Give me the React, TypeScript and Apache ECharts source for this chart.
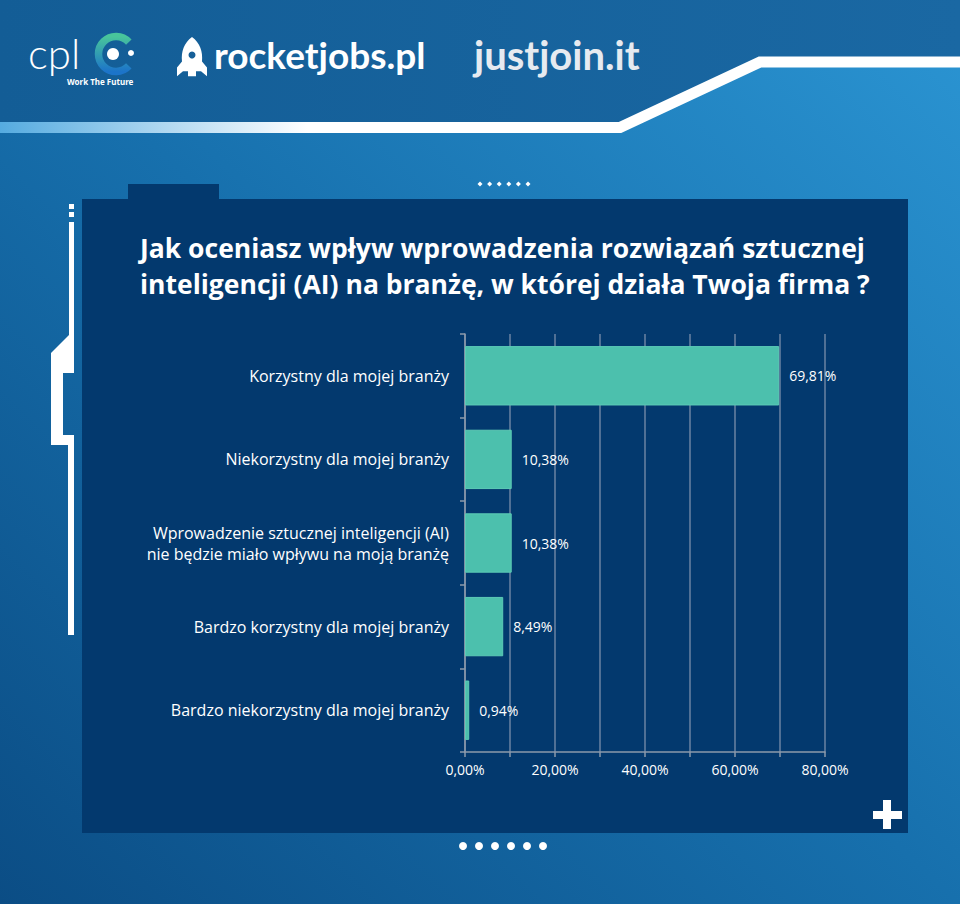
import React, { useEffect, useRef } from "react";
import * as echarts from "echarts";

const categories = [
  "Korzystny dla mojej branży",
  "Niekorzystny dla mojej branży",
  "Wprowadzenie sztucznej inteligencji (AI)\nnie będzie miało wpływu na moją branżę",
  "Bardzo korzystny dla mojej branży",
  "Bardzo niekorzystny dla mojej branży",
];
const values = [69.81, 10.38, 10.38, 8.49, 0.94];
const axisMin = 0;
const axisMax = 80;
const tickStep = 10;
const labelStep = 20;
const titleText =
  "Jak oceniasz wpływ wprowadzenia rozwiązań sztucznej\ninteligencji (AI) na branżę, w której działa Twoja firma ?";

const fmt = (v: number) => v.toFixed(2).replace(".", ",") + "%";

const FONT = "'Open Sans', 'Noto Sans', sans-serif";

let registered = false;
function registerShapes() {
  if (registered) return;
  registered = true;
  echarts.graphic.registerShape(
    "rocket",
    echarts.graphic.extendPath(
      "M16 0 C24 6 27 15 26 25 L31 31 L31 40 L25 35 L20 35 L20 40 L12 40 L12 35 L7 35 L1 40 L1 31 L6 25 C5 15 8 6 16 0 Z",
      {}
    )
  );
}

export default function App() {
  const ref = useRef<HTMLDivElement>(null);
  useEffect(() => {
    document.body.style.margin = "0";
    registerShapes();
    const chart = echarts.init(ref.current!, null, { renderer: "svg" });
    const Z = -10;
    const graphic: any[] = [
      {
        type: "rect",
        z: Z,
        shape: { x: 0, y: 0, width: 960, height: 904 },
        style: {
          fill: new echarts.graphic.LinearGradient(1, 0, 0, 1, [
            { offset: 0, color: "#2b95d3" },
            { offset: 0.5, color: "#1770ad" },
            { offset: 1, color: "#0b4d85" },
          ]),
        },
      },
      {
        type: "polygon",
        z: Z,
        shape: {
          points: [
            [0, 0],
            [960, 0],
            [960, 62],
            [760, 62],
            [620, 127],
            [0, 127],
          ],
        },
        style: {
          fill: new echarts.graphic.LinearGradient(0, 0, 1, 0, [
            { offset: 0, color: "#135d96" },
            { offset: 1, color: "#1a68a3" },
          ]),
        },
      },
      {
        type: "polyline",
        z: Z,
        shape: {
          points: [
            [0, 127.5],
            [620, 127.5],
            [760, 62],
            [960, 62],
          ],
        },
        style: {
          lineWidth: 11,
          lineJoin: "miter",
          stroke: new echarts.graphic.LinearGradient(0, 0, 1, 0, [
            { offset: 0, color: "#55abe0" },
            { offset: 0.32, color: "#ffffff" },
            { offset: 1, color: "#ffffff" },
          ]),
        },
      },
      // panel
      {
        type: "rect",
        z: Z,
        shape: { x: 128, y: 184, width: 91, height: 16 },
        style: { fill: "#03396e" },
      },
      {
        type: "rect",
        z: Z,
        shape: { x: 82, y: 199, width: 826, height: 634 },
        style: { fill: "#03396e" },
      },
      // left decoration
      { type: "rect", z: Z, shape: { x: 69, y: 204, width: 5, height: 5 }, style: { fill: "#fff" } },
      { type: "rect", z: Z, shape: { x: 69, y: 212, width: 5, height: 5 }, style: { fill: "#fff" } },
      { type: "rect", z: Z, shape: { x: 69, y: 222, width: 5, height: 113 }, style: { fill: "#fff" } },
      {
        type: "polygon",
        z: Z,
        shape: {
          points: [
            [69, 335],
            [74, 335],
            [74, 373],
            [63, 373],
            [63, 435],
            [74, 435],
            [74, 445],
            [51, 445],
            [51, 353],
          ],
        },
        style: { fill: "#fff" },
      },
      { type: "rect", z: Z, shape: { x: 68, y: 445, width: 6, height: 190 }, style: { fill: "#fff" } },
      // plus
      { type: "rect", z: Z, shape: { x: 873, y: 811, width: 29, height: 8 }, style: { fill: "#fff" } },
      { type: "rect", z: Z, shape: { x: 883, y: 800, width: 8, height: 29 }, style: { fill: "#fff" } },
      // logos
      {
        type: "text",
        z: Z,
        x: 28,
        y: 53,
        style: {
          text: "cpl",
          fill: "#fff",
          fontSize: 42,
          verticalAlign: "middle",
          fontFamily: "Lato, sans-serif",
          fontWeight: 300,
        },
      },
      {
        type: "arc",
        z: Z,
        shape: { cx: 116, cy: 54, r: 17.5, startAngle: 0.75, endAngle: Math.PI * 2 - 0.75, clockwise: true },
        style: {
          lineWidth: 7.5,
          fill: "none",
          stroke: new echarts.graphic.LinearGradient(0, 0, 0, 1, [
            { offset: 0, color: "#48c59b" },
            { offset: 1, color: "#1c74c9" },
          ]),
        },
      },
      { type: "circle", z: Z, shape: { cx: 113, cy: 54, r: 6 }, style: { fill: "#fff" } },
      { type: "circle", z: Z, shape: { cx: 131, cy: 53, r: 3 }, style: { fill: "#fff" } },
      {
        type: "text",
        z: Z,
        x: 67,
        y: 77,
        style: {
          text: "Work The Future",
          fill: "#fff",
          fontSize: 8,
          fontFamily: "'Liberation Sans Narrow', 'Noto Sans', sans-serif",
          fontWeight: "bold",
        },
      },
      {
        type: "rocket",
        z: Z,
        x: 176,
        y: 37,
        scaleX: 1.0,
        scaleY: 0.98,
        style: { fill: "#fff" },
      },
      { type: "circle", z: Z, shape: { cx: 192, cy: 55, r: 3.5 }, style: { fill: "#165f98" } },
      {
        type: "text",
        z: Z,
        x: 214,
        y: 36,
        style: { text: "rocketjobs.pl", fill: "#fff", fontSize: 37, fontFamily: "Lato, sans-serif", fontWeight: "bold" },
      },
      {
        type: "text",
        z: Z,
        x: 474,
        y: 35,
        style: { text: "justjoin.it", fill: "#e6eaf0", fontSize: 40, fontFamily: "Lato, sans-serif", fontWeight: "bold" },
      },
    ];
    // dots
    for (let i = 0; i < 6; i++) {
      graphic.push({
        type: "polygon",
        z: Z,
        shape: {
          points: [
            [480 + i * 9.6, 181.5],
            [482.5 + i * 9.6, 184],
            [480 + i * 9.6, 186.5],
            [477.5 + i * 9.6, 184],
          ],
        },
        style: { fill: "#fff" },
      });
      graphic.push({
        type: "circle",
        z: Z,
        shape: { cx: 463 + i * 16, cy: 846, r: 4 },
        style: { fill: "#fff" },
      });
    }

    chart.setOption({
      animation: false,
      title: {
        text: titleText,
        left: 135,
        top: 225,
        textStyle: {
          color: "#ffffff",
          fontSize: 26.5,
          fontWeight: "bold",
          fontFamily: FONT,
          lineHeight: 36,
        },
      },
      graphic,
      grid: { left: 465, right: 135, top: 334, bottom: 152, containLabel: false },
      xAxis: {
        type: "value",
        min: axisMin,
        max: axisMax,
        interval: tickStep,
        axisLine: { show: true, lineStyle: { color: "#8d9aab", width: 1.5 } },
        axisTick: { show: true, length: 5, lineStyle: { color: "#8d9aab", width: 1.5 } },
        splitLine: { show: true, lineStyle: { color: "#6b83a3", width: 1.5 } },
        axisLabel: {
          color: "#ffffff",
          fontSize: 14,
          fontFamily: FONT,
          margin: 10,
          formatter: (v: number) => (v % labelStep === 0 ? fmt(v) : ""),
        },
      },
      yAxis: {
        type: "category",
        data: categories,
        inverse: true,
        axisLine: { show: true, lineStyle: { color: "#8d9aab", width: 1.5 } },
        axisTick: { show: true, length: 5, lineStyle: { color: "#8d9aab", width: 1.5 } },
        splitLine: { show: false },
        axisLabel: {
          color: "#ffffff",
          fontSize: 16,
          fontFamily: FONT,
          margin: 16,
          lineHeight: 21,
        },
      },
      series: [
        {
          type: "bar",
          data: values,
          barWidth: "71%",
          itemStyle: { color: "#4cc0ad", borderColor: "#5dcbb6", borderWidth: 1 },
          label: {
            show: true,
            position: "right",
            distance: 10,
            color: "#ffffff",
            fontSize: 14,
            fontFamily: FONT,
            formatter: (p: any) => fmt(p.value),
          },
        },
      ],
    });
    return () => chart.dispose();
  }, []);
  return (
    <div
      ref={ref}
      style={{ position: "absolute", left: 0, top: 0, width: 960, height: 904 }}
    />
  );
}
